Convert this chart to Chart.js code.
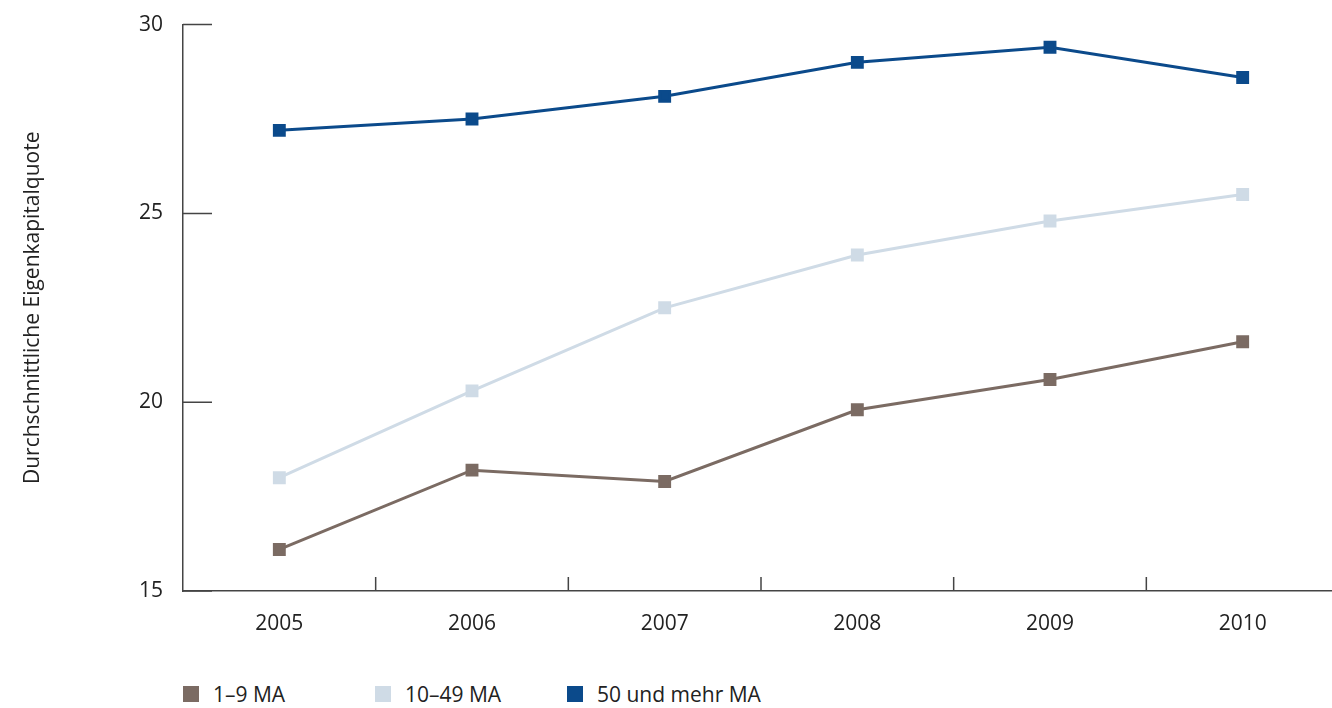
<!DOCTYPE html>
<html>
<head>
<meta charset="utf-8">
<script src="https://cdn.jsdelivr.net/npm/chart.js@4/dist/chart.umd.min.js"></script>
<style>
  body { margin: 0; background: #fff; font-family: "Open Sans", sans-serif; }
  #wrap { position: relative; width: 1332px; height: 708px; overflow: hidden; }
  #chart { position: absolute; left: 0; top: 0; }
  #legend { position: absolute; left: 183px; top: 682px; display: flex; }
  .item { width: 192px; flex-shrink: 0; white-space: nowrap; display: flex; align-items: center; height: 24px; font-size: 21px; color: #222; }
  .box { width: 16px; height: 16px; margin-right: 14px; flex-shrink: 0; }
</style>
</head>
<body>
<div id="wrap">
  <canvas id="chart" width="1349" height="640"></canvas>
  <div id="legend"></div>
</div>
<script>
const years = ['2005', '2006', '2007', '2008', '2009', '2010']
const small = [16.1, 18.2, 17.9, 19.8, 20.6, 21.6]
const medium = [18.0, 20.3, 22.5, 23.9, 24.8, 25.5]
const large = [27.2, 27.5, 28.1, 29.0, 29.4, 28.6]
const yTicks = [15, 20, 25, 30]

const font = { family: '"Open Sans", sans-serif', size: 21 }

function series(label, data, color) {
  return {
    label: label,
    data: data,
    borderColor: color,
    backgroundColor: color,
    borderWidth: 3,
    pointStyle: 'rect',
    pointRadius: 7,
    pointHoverRadius: 7,
    tension: 0
  }
}

// short tick marks pointing into the plot
const innerTicks = {
  id: 'innerTicks',
  afterDraw(chart) {
    const { ctx, chartArea, scales } = chart
    ctx.save()
    ctx.strokeStyle = '#444'
    ctx.lineWidth = 1.5
    ctx.beginPath()
    yTicks.forEach(v => {
      const y = scales.y.getPixelForValue(v)
      ctx.moveTo(chartArea.left, y)
      ctx.lineTo(chartArea.left + 29, y)
    })
    for (let i = 1; i < years.length; i++) {
      const x = (scales.x.getPixelForValue(i - 1) + scales.x.getPixelForValue(i)) / 2
      ctx.moveTo(x, chartArea.bottom)
      ctx.lineTo(x, chartArea.bottom - 14)
    }
    ctx.stroke()
    ctx.restore()
  }
}

const chart = new Chart(document.getElementById('chart'), {
  type: 'line',
  data: {
    labels: years,
    datasets: [
      series('1–9 MA', small, '#7b6b63'),
      series('10–49 MA', medium, '#cfdbe6'),
      series('50 und mehr MA', large, '#0b4a8b')
    ]
  },
  plugins: [innerTicks],
  options: {
    responsive: false,
    animation: false,
    layout: { padding: { top: 14, right: 0, left: 0, bottom: 0 } },
    plugins: { legend: { display: false }, tooltip: { enabled: false } },
    scales: {
      x: {
        offset: true,
        grid: { display: false },
        border: { color: '#444', width: 1.5 },
        ticks: { color: '#222', font: font, padding: 12 },
        afterFit(s) { s.height = 49 }
      },
      y: {
        min: 15,
        max: 30,
        afterBuildTicks(s) { s.ticks = yTicks.map(v => ({ value: v })) },
        grid: { display: false },
        border: { color: '#444', width: 1.5 },
        ticks: { color: '#222', font: font, padding: 12 },
        title: {
          display: true,
          text: 'Durchschnittliche Eigenkapitalquote',
          color: '#222',
          font: font,
          padding: { top: 20, bottom: 0 }
        },
        afterFit(s) { s.width = 183 }
      }
    }
  }
})

const legend = document.getElementById('legend')
chart.data.datasets.forEach(ds => {
  const item = document.createElement('div')
  item.className = 'item'
  item.innerHTML = '<span class="box" style="background:' + ds.borderColor + '"></span>' + ds.label
  legend.appendChild(item)
})
</script>
</body>
</html>
